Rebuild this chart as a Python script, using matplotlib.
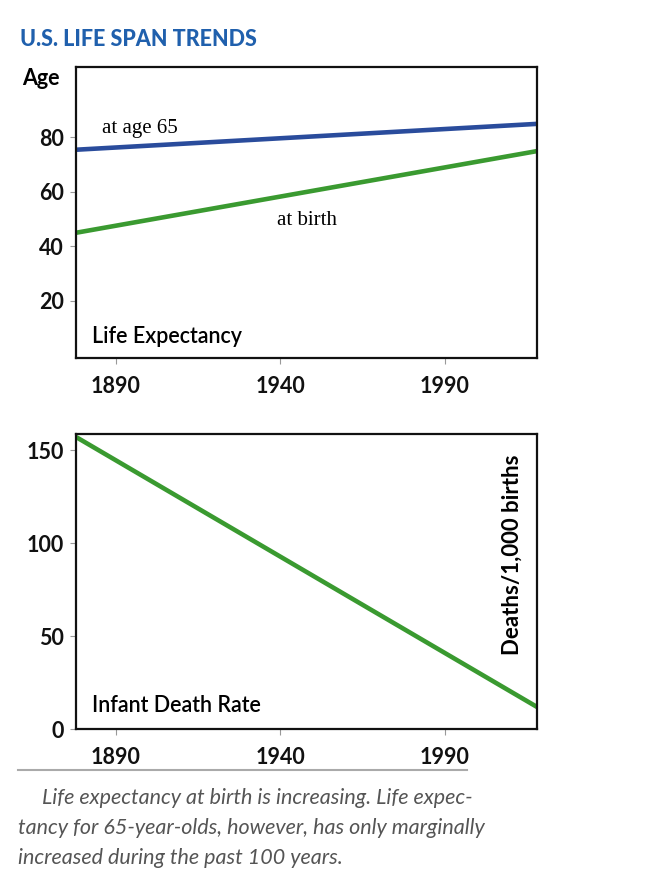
import numpy as np
import matplotlib
matplotlib.use("Agg")
import matplotlib.pyplot as plt
from matplotlib.lines import Line2D

# data
years = [1878, 2018]
life_at_65 = [75.5, 85.0]
life_at_birth = [45.0, 75.0]
infant_deaths = [157.0, 12.0]

year_ticks = [1890, 1940, 1990]
age_ticks = [20, 40, 60, 80]
death_ticks = [0, 50, 100, 150]

title = "U.S. LIFE SPAN TRENDS"
caption = [
    "Life expectancy at birth is increasing. Life expec-",
    "tancy for 65-year-olds, however, has only marginally",
    "increased during the past 100 years.",
]

BLUE = "#2a4c9c"
GREEN = "#3a9a30"
TITLE_BLUE = "#2060ad"
SANS = ["Lato", "DejaVu Sans"]
SERIF = ["Liberation Serif", "DejaVu Serif"]

W, H = 660, 894


def fx(px):
    return px / W


def fy(py):
    return 1 - py / H


def style_axes(ax):
    for s in ax.spines.values():
        s.set_linewidth(1.6)
        s.set_color("#111111")
    ax.tick_params(direction="out", length=4, width=0.8, color="#999999",
                   labelsize=15.5, top=False, right=False)
    ax.tick_params(axis="y", pad=5)
    ax.tick_params(axis="x", pad=9)
    for lab in ax.get_xticklabels() + ax.get_yticklabels():
        lab.set_family(SANS)
        lab.set_fontweight("bold")
        lab.set_color("#111111")


fig = plt.figure(figsize=(W / 100, H / 100), dpi=100)

# top panel: life expectancy
ax1 = fig.add_axes([fx(76), fy(358), fx(537 - 76), (358 - 66.7) / H])
ax1.plot(years, life_at_65, color=BLUE, lw=3.3, solid_capstyle="butt")
ax1.plot(years, life_at_birth, color=GREEN, lw=3.3, solid_capstyle="butt")
ax1.set_xlim(1878, 2018)
ax1.set_ylim(-1, 106)
ax1.set_xticks(year_ticks)
ax1.set_yticks(age_ticks)
style_axes(ax1)
ax1.text(1885.8, 81.5, "at age 65", family=SERIF, fontsize=15, va="baseline")
ax1.text(1939, 48, "at birth", family=SERIF, fontsize=15, va="baseline")
ax1.text(1883, 4.6, "Life Expectancy", family=SANS, fontsize=15.5,
         fontweight="semibold", va="baseline")

# bottom panel: infant death rate
ax2 = fig.add_axes([fx(76), fy(729.3), fx(537 - 76), (729.3 - 434) / H])
ax2.plot(years, infant_deaths, color=GREEN, lw=3.3, solid_capstyle="butt")
ax2.set_xlim(1878, 2018)
ax2.set_ylim(0, 158.6)
ax2.set_xticks(year_ticks)
ax2.set_yticks(death_ticks)
style_axes(ax2)
ax2.text(1883, 9.3, "Infant Death Rate", family=SANS, fontsize=15.5,
         fontweight="semibold", va="baseline")
ax2.text(fx(512 - 76) / fx(537 - 76), 0.59, "Deaths/1,000 births",
         transform=ax2.transAxes, rotation=90, family=SANS, fontsize=16,
         fontweight="bold", ha="center", va="center")

# title and axis word
fig.text(fx(20), fy(46), title, family=SANS, fontsize=15.5, fontweight="black",
         color=TITLE_BLUE, va="baseline")
fig.text(fx(22), fy(85), "Age", family=SANS, fontsize=15.5, fontweight="bold",
         va="baseline")

# caption rule and caption
fig.add_artist(Line2D([fx(18), fx(467)], [fy(770), fy(770)],
                      color="#aaaaaa", lw=1.5))
for i, line in enumerate(caption):
    x0 = 42 if i == 0 else 18
    fig.text(fx(x0), fy(798 + 30 * i), line, family=SANS, fontsize=15.5,
             style="italic", color="#555555", va="center")

fig.savefig("out.png", dpi=100)
